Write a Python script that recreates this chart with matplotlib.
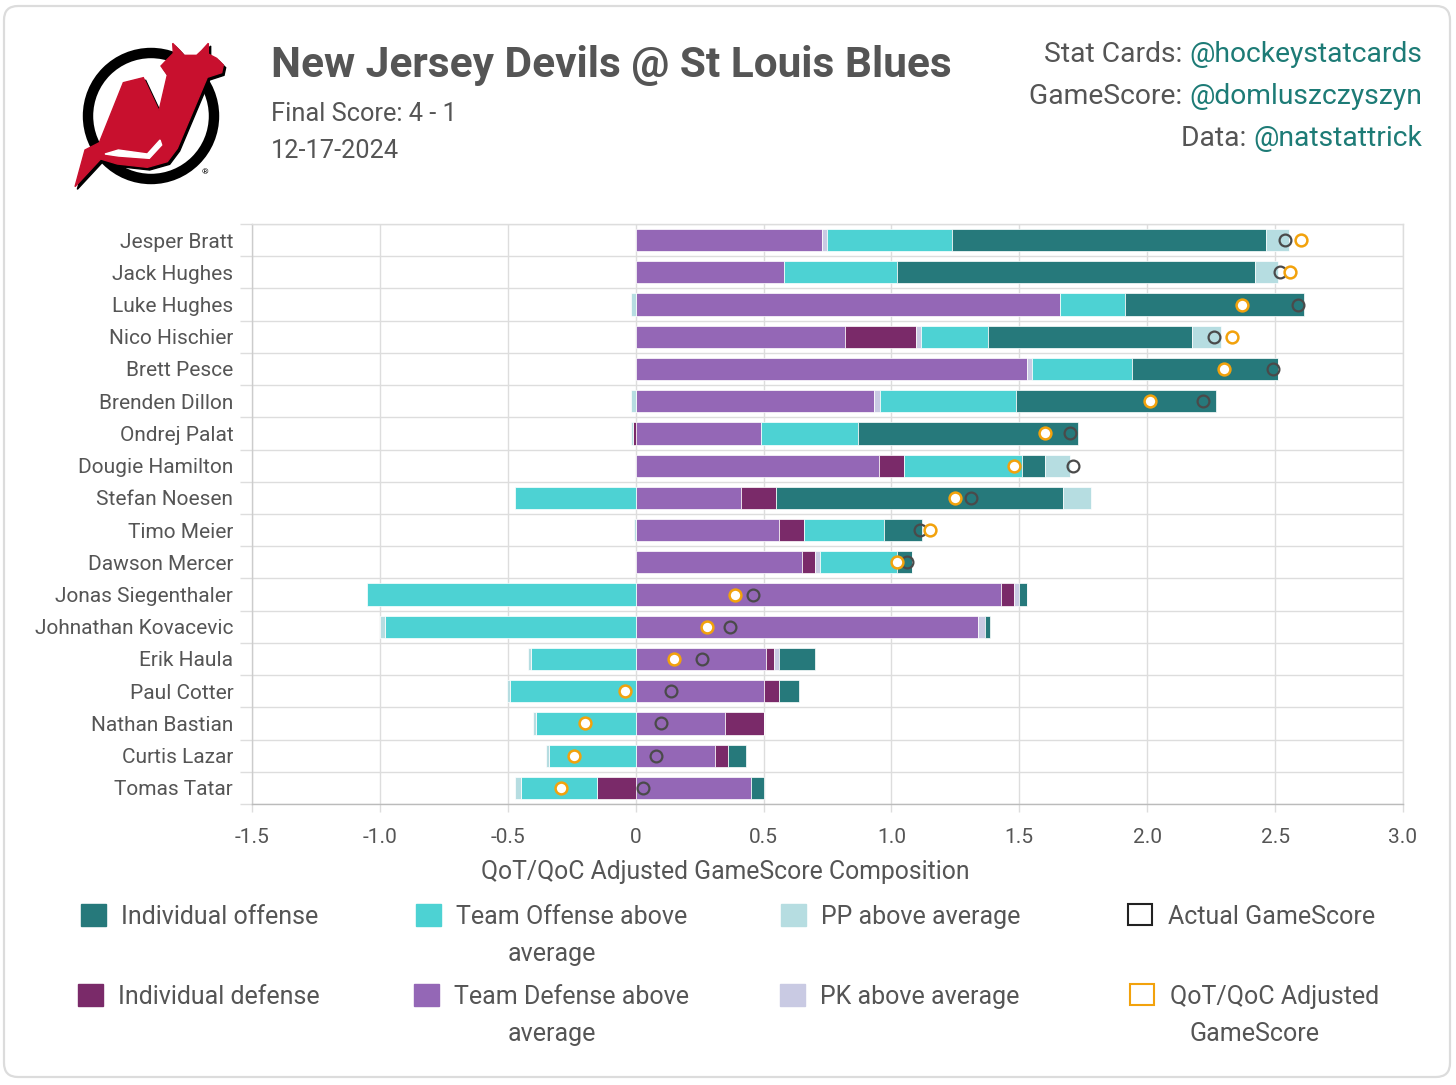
import matplotlib
matplotlib.use("Agg")
import matplotlib.pyplot as plt
import numpy as np
from matplotlib.patches import Polygon, Circle, Rectangle, FancyBboxPatch

plt.rcParams['font.family'] = ['Roboto', 'DejaVu Sans']

# ---------------- data ----------------
players = ["Jesper Bratt", "Jack Hughes", "Luke Hughes", "Nico Hischier", "Brett Pesce",
           "Brenden Dillon", "Ondrej Palat", "Dougie Hamilton", "Stefan Noesen", "Timo Meier",
           "Dawson Mercer", "Jonas Siegenthaler", "Johnathan Kovacevic", "Erik Haula",
           "Paul Cotter", "Nathan Bastian", "Curtis Lazar", "Tomas Tatar"]

team_def = [0.73, 0.58, 1.66, 0.82, 1.53, 0.93, 0.49, 0.95, 0.41, 0.56, 0.65, 1.43, 1.34, 0.51, 0.50, 0.35, 0.31, 0.45]
ind_def = [0.0, 0.0, 0.0, 0.275, 0.0, 0.0, -0.01, 0.10, 0.14, 0.10, 0.05, 0.05, 0.0, 0.03, 0.06, 0.15, 0.05, -0.15]
pk_above = [0.02, 0.0, 0.0, 0.02, 0.02, 0.027, 0.0, 0.0, 0.0, 0.0, 0.02, 0.02, 0.025, 0.02, 0.0, 0.0, 0.0, 0.0]
team_off = [0.485, 0.442, 0.254, 0.262, 0.39, 0.53, 0.38, 0.46, -0.47, 0.31, 0.30, -1.05, -0.98, -0.41, -0.49, -0.39, -0.34, -0.30]
ind_off = [1.228, 1.40, 0.70, 0.798, 0.57, 0.78, 0.86, 0.09, 1.12, 0.15, 0.06, 0.03, 0.02, 0.14, 0.08, 0.0, 0.07, 0.05]
pp_above = [0.09, 0.09, -0.02, 0.113, 0.0, -0.02, -0.008, 0.10, 0.11, -0.006, 0.0, 0.0, -0.02, -0.01, -0.012, -0.01, -0.01, -0.02]

actual_gs = [2.54, 2.52, 2.59, 2.26, 2.49, 2.22, 1.70, 1.71, 1.31, 1.11, 1.06, 0.46, 0.37, 0.26, 0.14, 0.10, 0.08, 0.03]
adjusted_gs = [2.60, 2.56, 2.37, 2.33, 2.30, 2.01, 1.60, 1.48, 1.25, 1.15, 1.02, 0.39, 0.28, 0.15, -0.04, -0.20, -0.24, -0.29]

x_ticks = [-1.5, -1.0, -0.5, 0, 0.5, 1.0, 1.5, 2.0, 2.5, 3.0]
x_tick_labels = ["-1.5", "-1.0", "-0.5", "0", "0.5", "1.0", "1.5", "2.0", "2.5", "3.0"]

# stacking order (dataset order)
series = [
    ("Team Defense above average", team_def, "#9467b6"),
    ("Individual defense", ind_def, "#7a2a69"),
    ("PK above average", pk_above, "#c9cae3"),
    ("Team Offense above average", team_off, "#4dd2d3"),
    ("Individual offense", ind_off, "#26797b"),
    ("PP above average", pp_above, "#b6dde1"),
]
colors = {name: c for name, _, c in series}

W, H = 1456, 1085
fig = plt.figure(figsize=(W / 100, H / 100), dpi=100)
fig.patch.set_facecolor("white")

# background card
bg = fig.add_axes([0, 0, 1, 1], zorder=-10)
bg.set_xlim(0, W)
bg.set_ylim(H, 0)
bg.axis("off")
card = FancyBboxPatch((4, 6), W - 10, H - 14, boxstyle="round,pad=0,rounding_size=14",
                      facecolor="white", edgecolor="#dcdcdc", linewidth=1.6)
bg.add_patch(card)

# ---- logo (approximation of the Devils crest) ----
def lp(pts):
    return [(60 + x / 3.0, 30 + y / 3.0) for x, y in pts]

bg.add_patch(Circle((151, 116), 63, facecolor="white", edgecolor="black", linewidth=7.5))
outline = [(45, 470), (75, 360), (118, 338), (190, 158), (250, 143), (297, 243), (322, 135),
           (303, 108), (322, 88), (340, 70), (338, 40), (360, 62), (372, 76), (410, 76), (425, 62),
           (445, 40), (445, 72), (470, 85), (490, 105), (485, 128), (442, 142), (352, 355), (322, 395),
           (262, 412), (172, 402), (122, 387)]
shadow = lp([(x + 7, y + 8) for x, y in outline])
bg.add_patch(Polygon(shadow, closed=True, facecolor="black", edgecolor="black", linewidth=1))
bg.add_patch(Polygon(lp(outline), closed=True, facecolor="#c8102e", edgecolor="#c8102e", linewidth=1))
# thin white gap under the N
bg.add_patch(Polygon(lp([(135, 372), (175, 360), (262, 372), (300, 330), (305, 345), (268, 385), (175, 378)]),
                     closed=True, facecolor="white", edgecolor="white"))
bg.text(205, 172, "®", fontsize=6, color="black", ha="center", va="center")

# ---- header text ----
fig.text(271 / W, 1 - 66 / H, "New Jersey Devils @ St Louis Blues", fontsize=30.5, fontweight="bold",
         color="#555555", ha="left", va="center")
fig.text(271 / W, 1 - 114 / H, "Final Score: 4 - 1", fontsize=18.3, color="#555555", ha="left", va="center")
fig.text(271 / W, 1 - 151 / H, "12-17-2024", fontsize=18.3, color="#555555", ha="left", va="center")

credits = [("Stat Cards: ", "@hockeystatcards", 55), ("GameScore: ", "@domluszczyszyn", 97),
           ("Data: ", "@natstattrick", 138)]
for lab, handle, yy in credits:
    t = bg.text(1422, yy, handle, fontsize=20.3, color="#1d7b76", ha="right", va="center")
    fig.canvas.draw()
    bb = t.get_window_extent()
    bg.text(bb.x0 * 1.0, yy, lab, fontsize=20.3, color="#555555", ha="right", va="center",
            transform=matplotlib.transforms.blended_transform_factory(
                matplotlib.transforms.IdentityTransform(), bg.transData))

# ---------------- chart ----------------
ax = fig.add_axes([252 / W, 1 - 804 / H, (1403 - 252) / W, (804 - 224) / H])
y = np.arange(len(players))
pos_base = np.zeros(len(players))
neg_base = np.zeros(len(players))
for name, vals, col in series:
    v = np.array(vals, dtype=float)
    left = np.where(v >= 0, pos_base, neg_base)
    ax.barh(y, v, left=left, height=0.69, color=col, edgecolor="white", linewidth=0.5, zorder=3)
    pos_base = pos_base + np.where(v >= 0, v, 0)
    neg_base = neg_base + np.where(v < 0, v, 0)

ax.plot(actual_gs, y, linestyle="none", marker="o", markersize=8.5, markerfacecolor="none",
        markeredgecolor="#4a4a4a", markeredgewidth=1.6, zorder=5)
ax.plot(adjusted_gs, y, linestyle="none", marker="o", markersize=8.5, markerfacecolor="white",
        markeredgecolor="#f2a20c", markeredgewidth=1.8, zorder=6)

ax.set_xlim(-1.5, 3.0)
ax.set_ylim(len(players) - 0.5, -0.5)
ax.set_xticks(x_ticks)
ax.set_xticklabels(x_tick_labels)
ax.set_yticks(y)
ax.set_yticklabels(players)
ax.set_yticks(np.arange(len(players) + 1) - 0.5, minor=True)
ax.tick_params(axis="y", which="major", length=0, pad=13.5, labelsize=15, labelcolor="#555555")
ax.tick_params(axis="y", which="minor", length=8.5, color="#dddddd", width=1)
ax.tick_params(axis="x", which="major", length=6, color="#dddddd", width=1, pad=11.5,
               labelsize=15, labelcolor="#555555")
ax.grid(axis="x", which="major", color="#dddddd", linewidth=1, zorder=0)
ax.grid(axis="y", which="minor", color="#dddddd", linewidth=1, zorder=0)
ax.set_axisbelow(True)
for s in ["top", "right"]:
    ax.spines[s].set_color("#dddddd")
ax.spines["left"].set_color("#cccccc")
ax.spines["bottom"].set_color("#bbbbbb")
for s in ax.spines.values():
    s.set_linewidth(1)

fig.text(725 / W, 1 - 872 / H, "QoT/QoC Adjusted GameScore Composition", fontsize=17.8,
         color="#555555", ha="center", va="center")

# ---------------- legend (manual) ----------------
legend_items = [
    ("Individual offense", colors["Individual offense"], None, 81, 915),
    ("Team Offense above|average", colors["Team Offense above average"], None, 416, 915),
    ("PP above average", colors["PP above average"], None, 781, 915),
    ("Actual GameScore", "none", "#222222", 1128, 915),
    ("Individual defense", colors["Individual defense"], None, 78, 995),
    ("Team Defense above|average", colors["Team Defense above average"], None, 414, 995),
    ("PK above average", colors["PK above average"], None, 780, 995),
    ("QoT/QoC Adjusted|GameScore", "none", "#f2a20c", 1130, 995),
]
for label, fc, ec, bx, by in legend_items:
    if ec is None:
        bg.add_patch(Rectangle((bx, by - 11), 25, 22, facecolor=fc, edgecolor=fc, linewidth=1))
    else:
        bg.add_patch(Rectangle((bx, by - 11), 24, 21, facecolor="white", edgecolor=ec, linewidth=1.5))
    parts = label.split("|")
    t = bg.text(bx + 40, by + 2, parts[0], fontsize=18, color="#555555", ha="left", va="center")
    if len(parts) > 1:
        fig.canvas.draw()
        bb = t.get_window_extent()
        inv = bg.transData.inverted()
        x_end = inv.transform((bb.x1, bb.y0))[0]
        cx = (bx + x_end) / 2
        bg.text(cx, by + 39, parts[1], fontsize=18, color="#555555", ha="center", va="center")

fig.savefig("out.png", dpi=100, facecolor="white")
